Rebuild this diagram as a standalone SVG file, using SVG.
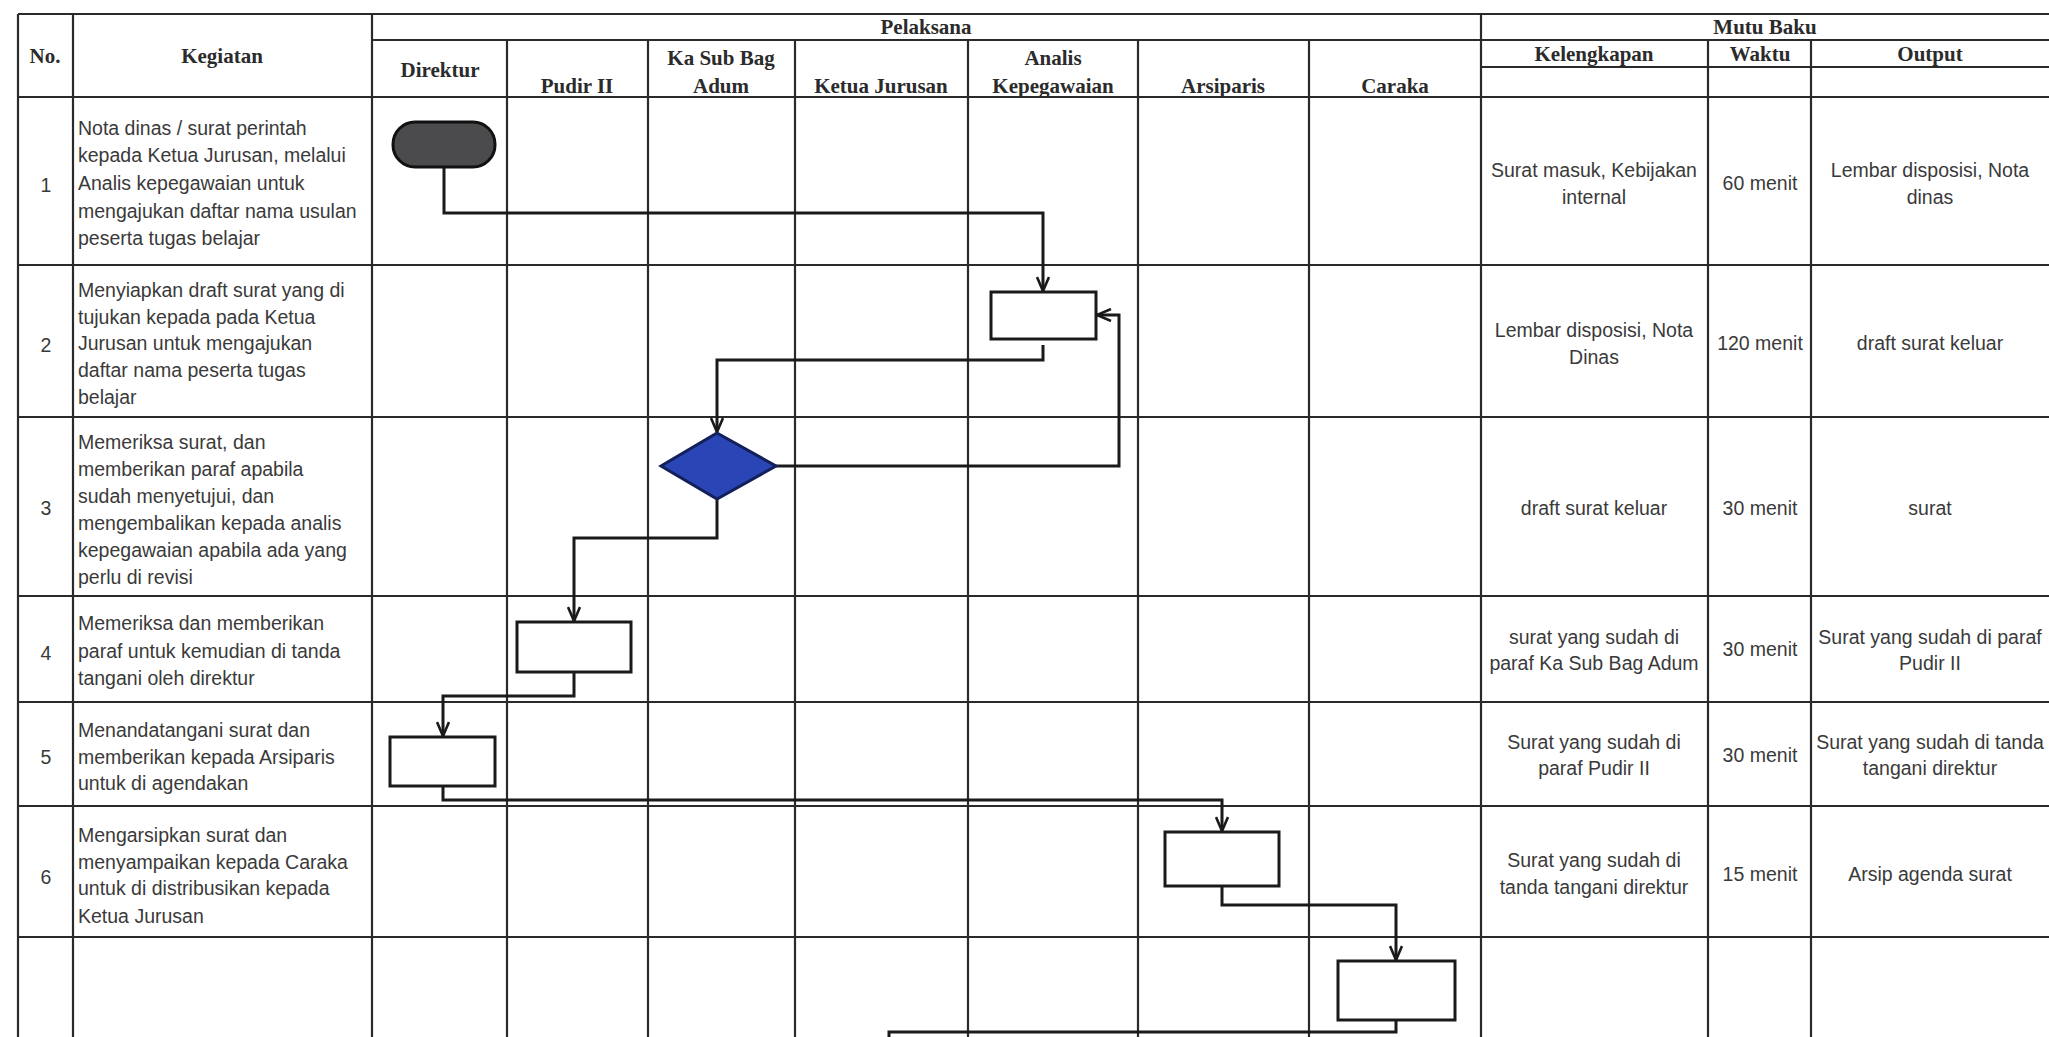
<svg xmlns="http://www.w3.org/2000/svg" width="2049" height="1037" viewBox="0 0 2049 1037">
<defs>
<style>
.grid line{stroke:#2a2a2a;stroke-width:2.2}
.hd{font-family:"Liberation Serif","Times New Roman",serif;font-weight:bold;font-size:21px;fill:#2b2b2b;text-anchor:middle}
.tx{font-family:"Liberation Sans",Arial,sans-serif;font-size:19.5px;fill:#3a3a3a}
.c{text-anchor:middle}
.num{font-family:"Liberation Sans",Arial,sans-serif;font-size:19.5px;fill:#3a3a3a;text-anchor:middle}
.box{fill:#ffffff;stroke:#1a1a1a;stroke-width:3}
.conn path{fill:none;stroke:#1a1a1a;stroke-width:3}
</style>
<marker id="arr" viewBox="0 0 16 14" refX="15" refY="7" markerWidth="16" markerHeight="14" markerUnits="userSpaceOnUse" orient="auto">
<path d="M1,1 L15,7 L1,13" fill="none" stroke="#1a1a1a" stroke-width="2.6"/>
</marker>
</defs>
<rect x="0" y="0" width="2049" height="1037" fill="#ffffff"/>

<g id="table" class="grid">
<line x1="18" y1="14" x2="2049" y2="14"/>
<line x1="372" y1="40" x2="2049" y2="40"/>
<line x1="1481" y1="67" x2="2049" y2="67"/>
<line x1="18" y1="97" x2="2049" y2="97"/>
<line x1="18" y1="265" x2="2049" y2="265"/>
<line x1="18" y1="417" x2="2049" y2="417"/>
<line x1="18" y1="596" x2="2049" y2="596"/>
<line x1="18" y1="702" x2="2049" y2="702"/>
<line x1="18" y1="806" x2="2049" y2="806"/>
<line x1="18" y1="937" x2="2049" y2="937"/>
<line x1="18" y1="14" x2="18" y2="1037"/>
<line x1="73" y1="14" x2="73" y2="1037"/>
<line x1="372" y1="14" x2="372" y2="1037"/>
<line x1="1481" y1="14" x2="1481" y2="1037"/>
<line x1="507" y1="40" x2="507" y2="1037"/>
<line x1="648" y1="40" x2="648" y2="1037"/>
<line x1="795" y1="40" x2="795" y2="1037"/>
<line x1="968" y1="40" x2="968" y2="1037"/>
<line x1="1138" y1="40" x2="1138" y2="1037"/>
<line x1="1309" y1="40" x2="1309" y2="1037"/>
<line x1="1708" y1="40" x2="1708" y2="1037"/>
<line x1="1811" y1="40" x2="1811" y2="1037"/>
</g>

<g id="header">
<text class="hd" x="45" y="63">No.</text>
<text class="hd" x="222" y="63">Kegiatan</text>
<text class="hd" x="926" y="34">Pelaksana</text>
<text class="hd" x="1765" y="34">Mutu Baku</text>
<text class="hd" x="440" y="77">Direktur</text>
<text class="hd" x="577" y="93">Pudir II</text>
<text class="hd" x="721" y="65">Ka Sub Bag</text>
<text class="hd" x="721" y="93">Adum</text>
<text class="hd" x="881" y="93">Ketua Jurusan</text>
<text class="hd" x="1053" y="65">Analis</text>
<text class="hd" x="1053" y="93">Kepegawaian</text>
<text class="hd" x="1223" y="93">Arsiparis</text>
<text class="hd" x="1395" y="93">Caraka</text>
<text class="hd" x="1594" y="61">Kelengkapan</text>
<text class="hd" x="1760" y="61">Waktu</text>
<text class="hd" x="1930" y="61">Output</text>
</g>

<g id="row1">
<text class="num" x="46" y="192">1</text>
<text class="tx" x="78" y="135">Nota dinas / surat perintah</text>
<text class="tx" x="78" y="162">kepada Ketua Jurusan, melalui</text>
<text class="tx" x="78" y="190">Analis kepegawaian untuk</text>
<text class="tx" x="78" y="218">mengajukan daftar nama usulan</text>
<text class="tx" x="78" y="245">peserta tugas belajar</text>
<text class="tx c" x="1594" y="177">Surat masuk, Kebijakan</text>
<text class="tx c" x="1594" y="204">internal</text>
<text class="tx c" x="1760" y="190">60 menit</text>
<text class="tx c" x="1930" y="177">Lembar disposisi, Nota</text>
<text class="tx c" x="1930" y="204">dinas</text>
</g>

<g id="row2">
<text class="num" x="46" y="352">2</text>
<text class="tx" x="78" y="297">Menyiapkan draft surat yang di</text>
<text class="tx" x="78" y="324">tujukan kepada pada Ketua</text>
<text class="tx" x="78" y="350">Jurusan untuk mengajukan</text>
<text class="tx" x="78" y="377">daftar nama peserta tugas</text>
<text class="tx" x="78" y="404">belajar</text>
<text class="tx c" x="1594" y="337">Lembar disposisi, Nota</text>
<text class="tx c" x="1594" y="364">Dinas</text>
<text class="tx c" x="1760" y="350">120 menit</text>
<text class="tx c" x="1930" y="350">draft surat keluar</text>
</g>

<g id="row3">
<text class="num" x="46" y="515">3</text>
<text class="tx" x="78" y="449">Memeriksa surat, dan</text>
<text class="tx" x="78" y="476">memberikan paraf apabila</text>
<text class="tx" x="78" y="503">sudah menyetujui, dan</text>
<text class="tx" x="78" y="530">mengembalikan kepada analis</text>
<text class="tx" x="78" y="557">kepegawaian apabila ada yang</text>
<text class="tx" x="78" y="584">perlu di revisi</text>
<text class="tx c" x="1594" y="515">draft surat keluar</text>
<text class="tx c" x="1760" y="515">30 menit</text>
<text class="tx c" x="1930" y="515">surat</text>
</g>

<g id="row4">
<text class="num" x="46" y="660">4</text>
<text class="tx" x="78" y="630">Memeriksa dan memberikan</text>
<text class="tx" x="78" y="658">paraf untuk kemudian di tanda</text>
<text class="tx" x="78" y="685">tangani oleh direktur</text>
<text class="tx c" x="1594" y="644">surat yang sudah di</text>
<text class="tx c" x="1594" y="670">paraf Ka Sub Bag Adum</text>
<text class="tx c" x="1760" y="656">30 menit</text>
<text class="tx c" x="1930" y="644">Surat yang sudah di paraf</text>
<text class="tx c" x="1930" y="670">Pudir II</text>
</g>

<g id="row5">
<text class="num" x="46" y="764">5</text>
<text class="tx" x="78" y="737">Menandatangani surat dan</text>
<text class="tx" x="78" y="764">memberikan kepada Arsiparis</text>
<text class="tx" x="78" y="790">untuk di agendakan</text>
<text class="tx c" x="1594" y="749">Surat yang sudah di</text>
<text class="tx c" x="1594" y="775">paraf Pudir II</text>
<text class="tx c" x="1760" y="762">30 menit</text>
<text class="tx c" x="1930" y="749">Surat yang sudah di tanda</text>
<text class="tx c" x="1930" y="775">tangani direktur</text>
</g>

<g id="row6">
<text class="num" x="46" y="884">6</text>
<text class="tx" x="78" y="842">Mengarsipkan surat dan</text>
<text class="tx" x="78" y="869">menyampaikan kepada Caraka</text>
<text class="tx" x="78" y="895">untuk di distribusikan kepada</text>
<text class="tx" x="78" y="923">Ketua Jurusan</text>
<text class="tx c" x="1594" y="867">Surat yang sudah di</text>
<text class="tx c" x="1594" y="894">tanda tangani direktur</text>
<text class="tx c" x="1760" y="881">15 menit</text>
<text class="tx c" x="1930" y="881">Arsip agenda surat</text>
</g>

<g id="connectors" class="conn">
<path d="M444,167 V213 H1043 V291" marker-end="url(#arr)"/>
<path d="M1043,345 V360 H717 V432" marker-end="url(#arr)"/>
<path d="M776,466 H1119 V315 H1097" marker-end="url(#arr)"/>
<path d="M717,499 V538 H574 V621" marker-end="url(#arr)"/>
<path d="M574,672 V696 H443 V736" marker-end="url(#arr)"/>
<path d="M443,786 V800 H1222 V831" marker-end="url(#arr)"/>
<path d="M1222,886 V905 H1396 V960" marker-end="url(#arr)"/>
<path d="M1396,1020 V1032 H889 V1040"/>
</g>

<g id="start-direktur"><rect x="393" y="122" width="102" height="45" rx="22" ry="22" fill="#4b4b4e" stroke="#111111" stroke-width="3"/></g>
<g id="step-analis"><rect class="box" x="991" y="292" width="105" height="47"/></g>
<g id="decision-kasubbag"><polygon points="717,433 776,466 717,499 661,466" fill="#2a45b5" stroke="#14205a" stroke-width="3"/></g>
<g id="step-pudir"><rect class="box" x="517" y="622" width="114" height="50"/></g>
<g id="step-direktur"><rect class="box" x="390" y="737" width="105" height="49"/></g>
<g id="step-arsiparis"><rect class="box" x="1165" y="832" width="114" height="54"/></g>
<g id="step-caraka"><rect class="box" x="1338" y="961" width="117" height="59"/></g>
</svg>
